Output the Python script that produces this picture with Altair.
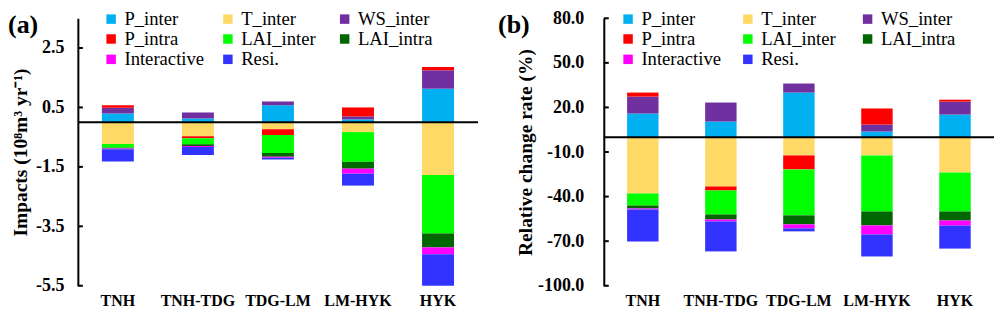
import altair as alt
import pandas as pd

categories = ["TNH", "TNH-TDG", "TDG-LM", "LM-HYK", "HYK"]
components = ["P_inter", "T_inter", "WS_inter", "P_intra", "LAI_inter", "LAI_intra", "Interactive", "Resi."]
colors = ["#00B0F0", "#FFD966", "#7030A0", "#FF0000", "#00FF00", "#006600", "#FF00FF", "#3333FF"]

# Panel (a): impacts (10^8 m3/yr)
a_P_inter = [0.30, 0.13, 0.57, 0.10, 1.13]
a_T_inter = [-0.73, -0.47, -0.23, -0.33, -1.77]
a_WS_inter = [0.19, 0.20, 0.13, 0.10, 0.62]
a_P_intra = [0.08, -0.07, -0.20, 0.30, 0.11]
a_LAI_inter = [-0.13, -0.20, -0.60, -1.00, -1.97]
a_LAI_intra = [-0.02, -0.06, -0.13, -0.23, -0.47]
a_Interactive = [-0.03, -0.03, -0.03, -0.17, -0.23]
a_Resi = [-0.41, -0.27, -0.06, -0.40, -1.06]

# Panel (b): relative change rate (%)
b_P_inter = [15.9, 10.5, 30.0, 3.8, 15.2]
b_T_inter = [-37.9, -33.2, -12.3, -12.3, -23.8]
b_WS_inter = [11.4, 12.8, 6.1, 4.7, 8.7]
b_P_intra = [2.7, -2.7, -9.4, 10.8, 1.3]
b_LAI_inter = [-8.1, -16.1, -30.9, -37.7, -26.2]
b_LAI_intra = [-2.0, -3.4, -6.1, -9.4, -6.1]
b_Interactive = [-0.7, -1.3, -2.7, -6.1, -3.4]
b_Resi = [-21.5, -20.2, -2.0, -14.8, -15.5]

a_ticks = [-5.5, -3.5, -1.5, 0.5, 2.5]
b_ticks = [-100, -70, -40, -10, 20, 50, 80]

a_series = [a_P_inter, a_T_inter, a_WS_inter, a_P_intra, a_LAI_inter, a_LAI_intra, a_Interactive, a_Resi]
b_series = [b_P_inter, b_T_inter, b_WS_inter, b_P_intra, b_LAI_inter, b_LAI_intra, b_Interactive, b_Resi]

FONT = "Liberation Serif"
LABEL_EXPR = "replace(format(datum.value, '.1f'), '\u2212', '-')"


def long_df(series):
    rows = []
    for k, (comp, vals) in enumerate(zip(components, series)):
        for cat, v in zip(categories, vals):
            rows.append({"category": cat, "component": comp, "value": v, "ord": k})
    return pd.DataFrame(rows)


def panel(series, domain, ticks, width, height, title, label, label_x,
          legend_x, colpad, bar_size, label_pad, title_pad):
    df = long_df(series)
    y_axis = alt.Axis(values=ticks, title=title, grid=False, ticks=False,
                      domainColor="black", domainWidth=2,
                      labelExpr=LABEL_EXPR, labelFont=FONT,
                      labelFontWeight="bold", labelFontSize=18,
                      labelColor="black", labelPadding=label_pad,
                      titleFont=FONT, titleFontWeight="bold", titleFontSize=19.5,
                      titleColor="black", titlePadding=title_pad)
    y_scale = alt.Scale(domain=domain, nice=False, zero=False)
    bars = alt.Chart(df).mark_bar(size=bar_size, strokeWidth=0).encode(
        x=alt.X("category:N", sort=categories,
                scale=alt.Scale(paddingInner=0, paddingOuter=0),
                axis=alt.Axis(title=None, domain=False, ticks=False, labelAngle=0,
                              labelFont=FONT, labelFontWeight="bold", labelFontSize=16,
                              labelColor="black", labelPadding=7)),
        y=alt.Y("value:Q", stack="zero", scale=y_scale, axis=y_axis),
        color=alt.Color("component:N",
                        scale=alt.Scale(domain=components, range=colors),
                        legend=alt.Legend(orient="none", legendX=legend_x, legendY=-9,
                                          direction="horizontal",
                                          columns=3, title=None, symbolType="square",
                                          symbolSize=90, symbolStrokeWidth=0,
                                          labelFont=FONT, labelFontSize=18.67,
                                          labelColor="black", labelOffset=4,
                                          columnPadding=colpad, rowPadding=0.4,
                                          gridAlign="all", padding=0)),
        order=alt.Order("ord:Q"),
    )
    zero = alt.Chart(pd.DataFrame({"value": [0]})).mark_rule(
        color="black", strokeWidth=2).encode(y=alt.Y("value:Q", scale=y_scale, axis=y_axis))
    tick_rules = alt.Chart(pd.DataFrame({"value": ticks})).mark_rule(
        color="black", strokeWidth=2).encode(
        y=alt.Y("value:Q", scale=y_scale, axis=y_axis), x=alt.value(0), x2=alt.value(5))
    lab = alt.Chart(pd.DataFrame({"lab": [label]})).mark_text(
        align="left", baseline="middle", font=FONT, fontWeight="bold",
        fontSize=26, color="black").encode(
        x=alt.value(label_x), y=alt.value(7), text="lab:N")
    return alt.layer(bars, zero, tick_rules, lab).properties(width=width, height=height)


pa = panel(a_series, [-5.5, 3.5], a_ticks, 401, 268,
           "Impacts (10\u2078m\u00b3 yr\u207b\u00b9)", "(a)", -70, 24, 14, 32, 14, 5)
pb = panel(b_series, [-100, 80], b_ticks, 391, 268,
           "Relative change rate (%)", "(b)", -106, 15, 17, 31.5, 20, 2)

chart = alt.hconcat(pa, pb, spacing=19).resolve_scale(
    color="independent", y="independent", x="independent"
).resolve_legend(color="independent").properties(
    padding={"top": 1, "left": 0, "right": 0, "bottom": 0}
).configure_view(stroke=None)

chart.save("out.html", embed_options={"renderer": "svg", "actions": False})
